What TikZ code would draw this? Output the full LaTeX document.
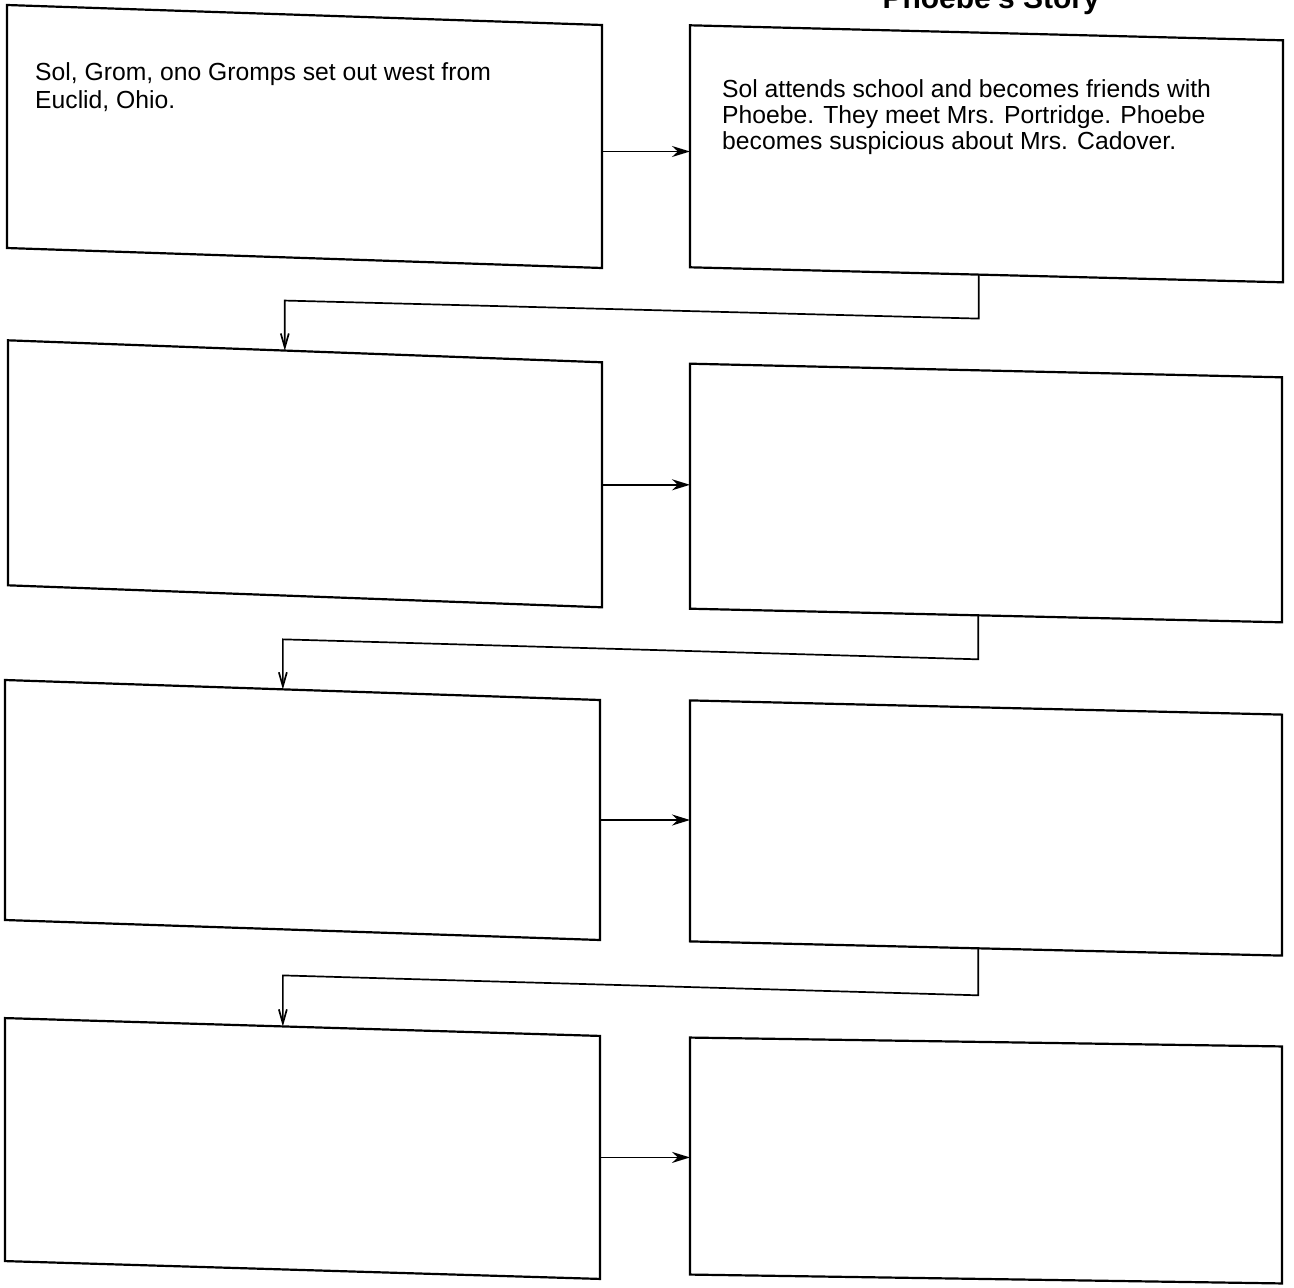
\documentclass[tikz,border=0pt]{standalone}
\usepackage{fontspec}
\setmainfont{Liberation Sans}
\usetikzlibrary{arrows.meta,calc}
\begin{document}
\begin{tikzpicture}[x=1pt,y=-1pt,
  box/.style={draw,line width=2.2pt,inner sep=0pt,outer sep=0pt},
  hand/.style={inner sep=0pt,anchor=north west,align=left},
  harr/.style={line width=1.8pt,-{Stealth[length=18pt,width=11pt]}},
  varr/.style={line width=1.7pt,-{Straight Barb[length=14pt,width=8pt]}},
]
\useasboundingbox (0,0) rectangle (1294,1288);
% title (cut off at the top edge, as in the scan)
\begin{scope}
\clip (0,0) rectangle (1294,1288);
\node[anchor=base east,inner sep=0pt,font=\fontsize{30}{30}\selectfont\bfseries] (title) at (1100,8) {Phoebe's Story};
\end{scope}
% boxes
\node[box,minimum width=595,minimum height=243,yslant=-0.0336] (L1) at (304.5,136.5) {};
\node[box,minimum width=593,minimum height=242,yslant=-0.0253] (R1) at (986.5,153.8) {};
\node[box,minimum width=594,minimum height=245,yslant=-0.037] (L2) at (305,473.8) {};
\node[box,minimum width=592,minimum height=245,yslant=-0.023] (R2) at (986,493) {};
\node[box,minimum width=595,minimum height=240,yslant=-0.0336] (L3) at (302.5,810) {};
\node[box,minimum width=592,minimum height=241,yslant=-0.024] (R3) at (986,828) {};
\node[box,minimum width=595,minimum height=243,yslant=-0.03] (L4) at (302.5,1148.5) {};
\node[box,minimum width=592,minimum height=237,yslant=-0.015] (R4) at (986,1160.5) {};
% texts
\node[hand,font=\fontsize{24.7}{28}\selectfont] (t1) at (35,62) {Sol, Grom, ono Gromps set out west from\\Euclid, Ohio.};
\node[hand,font=\fontsize{24.7}{26}\selectfont] (t2) at (722,79) {Sol attends school and becomes friends with\\Phoebe. They meet Mrs. Portridge. Phoebe\\becomes suspicious about Mrs. Cadover.};
% horizontal arrows
\draw[harr] ([yshift=-5pt]L1.east) -- ([yshift=-5pt]L1.east -| R1.west);
\draw[harr] (L2.east) -- (L2.east -| R2.west);
\draw[harr] (L3.east) -- (L3.east -| R3.west);
\draw[harr] (L4.east) -- (L4.east -| R4.west);
% connectors between rows
\coordinate (c1) at ($(L2.north west)!0.466!(L2.north east)$);
\coordinate (c2) at ($(L3.north west)!0.467!(L3.north east)$);
\coordinate (c3) at ($(L4.north west)!0.467!(L4.north east)$);
\draw[varr] ($(R1.south west)!0.487!(R1.south east)$) -- ++(0,44) -- ($(c1)+(0,-50)$) -- (c1);
\draw[varr] ($(R2.south west)!0.487!(R2.south east)$) -- ++(0,44) -- ($(c2)+(0,-50)$) -- (c2);
\draw[varr] ($(R3.south west)!0.487!(R3.south east)$) -- ++(0,47) -- ($(c3)+(0,-51)$) -- (c3);
\end{tikzpicture}
\end{document}
